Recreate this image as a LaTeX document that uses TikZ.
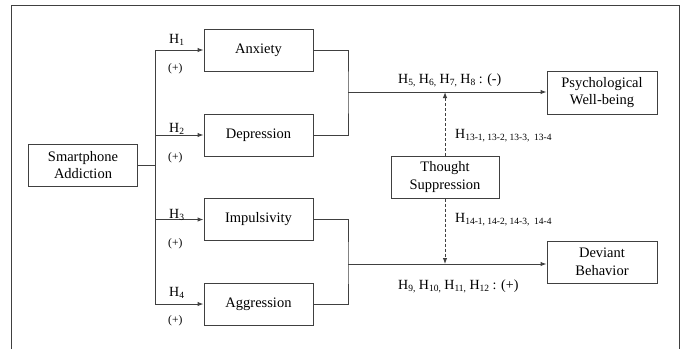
\documentclass[tikz,border=0pt]{standalone}
\usepackage{fontspec}
\setmainfont{Liberation Serif}
\usetikzlibrary{arrows.meta}
\newcommand{\sbs}[1]{\raisebox{-0.35ex}{\fontsize{9.5}{10}\selectfont #1}}
\begin{document}
\begin{tikzpicture}[x=1pt,y=-1pt,
  box/.style={draw=black!75,line width=1pt,minimum width=109pt,minimum height=42pt,inner sep=0pt,align=center,font=\fontsize{14.5}{17.5}\selectfont},
  ln/.style={draw=black!75,line width=1pt},
  arr/.style={ln,-{Latex[length=6pt,width=4.5pt]}},
  hl/.style={inner sep=0pt,anchor=base west,font=\fontsize{14}{16}\selectfont},
  pl/.style={inner sep=0pt,anchor=base west,font=\fontsize{11.5}{14}\selectfont}]
\useasboundingbox (0,0) rectangle (684,349);
\draw[ln] (11,349) -- (11,5) -- (679,5) -- (679,349);
% boxes
\node[box] (sa) at (83,165) {Smartphone\\Addiction};
\node[box] (anx) at (258.5,50) {Anxiety};
\node[box] (dep) at (258.5,135) {Depression};
\node[box] (imp) at (258.5,219.5) {Impulsivity};
\node[box] (agg) at (258.5,304) {Aggression};
\node[box,minimum width=110pt,minimum height=43pt] (pwb) at (602,92.5) {Psychological\\Well-being};
\node[box,minimum width=108pt] (ts) at (445,177) {Thought\\Suppression};
\node[box,minimum width=110pt] (db) at (602,262) {Deviant\\Behavior};
% left branching
\coordinate (b0) at (155,165);
\coordinate (b1) at (155,50);
\coordinate (b4) at (155,304);
\draw[ln] (sa.east) -- (b0);
\draw[ln] (b1) -- (b4);
\foreach \n in {anx,dep,imp,agg} \draw[arr] (b1 |- \n.west) -- (\n.west);
% right joins
\coordinate (j1) at (348,92);
\coordinate (j2) at (348,264);
\draw[ln] (anx.east) -| (j1) |- (dep.east);
\draw[ln] (imp.east) -| (j2) |- (agg.east);
\draw[arr] (j1) -- (j1 -| pwb.west);
\draw[arr] (j2) -- (j2 -| db.west);
% moderation
\coordinate (m1) at (ts.north |- j1);
\coordinate (m2) at (ts.south |- j2);
\draw[arr,dash pattern=on 3pt off 2pt] (ts.north) -- (m1);
\draw[arr,dash pattern=on 3pt off 2pt] (ts.south) -- (m2);
% labels
\node[hl] (h1) at (169,43) {H\sbs{1}};
\node[pl] (p1) at (168,71) {(+)};
\node[hl] (h2) at (169,132) {H\sbs{2}};
\node[pl] (p2) at (168,160) {(+)};
\node[hl] (h3) at (169,218) {H\sbs{3}};
\node[pl] (p3) at (168,246) {(+)};
\node[hl] (h4) at (169,296) {H\sbs{4}};
\node[pl] (p4) at (168,323) {(+)};
\node[hl] (h58) at (398,83) {H\sbs{5,} H\sbs{6,} H\sbs{7,} H\sbs{8} : (-)};
\node[hl] (h13) at (455,138) {H\sbs{13-1, 13-2, 13-3,~ 13-4}};
\node[hl] (h14) at (455,222) {H\sbs{14-1, 14-2, 14-3,~ 14-4}};
\node[hl] (h912) at (398,289) {H\sbs{9,} H\sbs{10,} H\sbs{11,} H\sbs{12} : (+)};
\end{tikzpicture}
\end{document}
